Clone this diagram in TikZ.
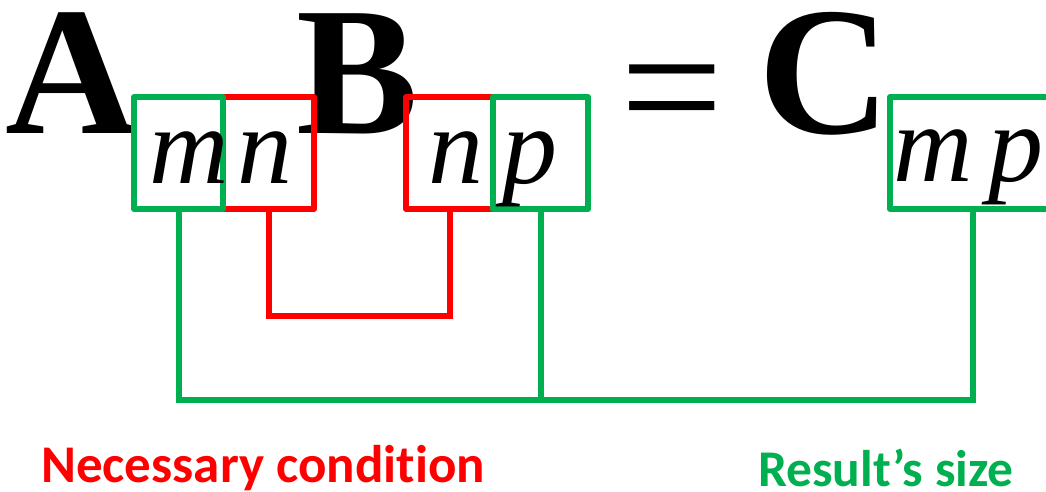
\documentclass[tikz,border=0pt]{standalone}
\usepackage{fontspec}
\setmainfont{Liberation Serif}
\newfontfamily\labelfont[Ligatures=NoCommon]{Carlito}
\definecolor{mred}{HTML}{FF0000}
\definecolor{mgreen}{HTML}{00B050}
\begin{document}
\begin{tikzpicture}[x=1pt,y=-1pt,
  big/.style={font=\fontsize{183}{190}\selectfont\bfseries, inner sep=0pt, anchor=base},
  eqsign/.style={font=\fontsize{183}{190}\selectfont, inner sep=0pt, anchor=base},
  sub/.style={font=\fontsize{110}{120}\selectfont\itshape, inner sep=0pt, anchor=base},
  gbox/.style={draw=mgreen, line width=6pt, line join=round, inner sep=0pt, outer sep=0pt, minimum height=112pt},
  rbox/.style={draw=mred, line width=6pt, line join=round, inner sep=0pt, outer sep=0pt, minimum height=112pt},
  glink/.style={draw=mgreen, line width=6pt},
  rlink/.style={draw=mred, line width=6pt},
  lbl/.style={font=\labelfont\bfseries, inner sep=0pt, anchor=base west}]
\useasboundingbox (0,0) rectangle (1046,492);
\clip (0,0) rectangle (1046,492);
% main letters
\node[big] (A) at (72,134) {A};
\node[big] (B) at (358,134) {B};
\node[eqsign] (eq) at (672.5,149) {=};
\node[big] (C) at (824.5,134) {C};
% red boxes first
\node[rbox, minimum width=91pt] (bn1) at (268.5,153) {};
\node[rbox, minimum width=87pt] (bn2) at (449.5,153) {};
% green boxes on top
\node[gbox, minimum width=89pt] (bm) at (178.5,153) {};
\node[gbox, minimum width=95pt] (bp) at (540.5,153) {};
\node[gbox, minimum width=210pt] (bc) at (995,153) {};
% subscript letters
\node[sub] (tm) at (189,183) {m};
\node[sub] (tn1) at (265,183) {n};
\node[sub] (tn2) at (456,183) {n};
\node[sub] (tp) at (530,183) {p};
\node[sub] (tcm) at (933,181) {m};
\node[sub] (tcp) at (1016,181) {p};
% connectors
\coordinate (ry) at (0,316);
\coordinate (gy) at (0,400);
\coordinate (cend) at ([xshift=83pt]bc.south west);
\draw[rlink] (bn1.south) -- (bn1.south |- ry) -| (bn2.south);
\draw[glink] (bm.south) -- (bm.south |- gy) -| (cend);
\draw[glink] (bp.south) -- (bp.south |- gy);
% labels
\node[lbl, text=mred, font=\labelfont\bfseries\fontsize{53}{60}\selectfont] (nc) at (41,482) {Necessary condition};
\node[lbl, text=mgreen, font=\labelfont\bfseries\fontsize{51.5}{60}\selectfont] (rs) at (758,486) {Result’s size};
\end{tikzpicture}
\end{document}
